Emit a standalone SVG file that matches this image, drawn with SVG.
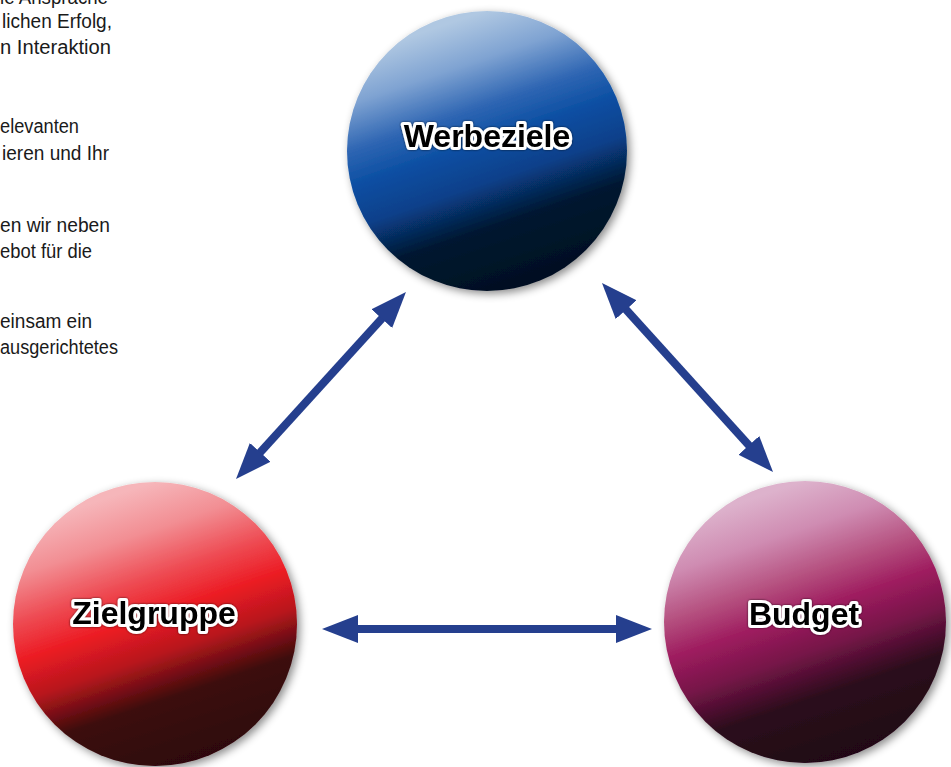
<svg xmlns="http://www.w3.org/2000/svg" width="951" height="767" viewBox="0 0 951 767">
<style>
.side{font-family:"Liberation Sans",Arial,sans-serif;font-size:20px;fill:#1a1a1a}
.lbl{font-family:"Liberation Sans",Arial,sans-serif;font-weight:bold;font-size:32px;fill:#000;stroke:#fff;stroke-width:6;stroke-linejoin:round;paint-order:stroke;text-anchor:middle;filter:url(#halo)}
.conn{stroke:#253f8e;stroke-width:8;fill:none;marker-start:url(#ah);marker-end:url(#ah)}
.sph{filter:url(#shadow)}
</style>
<defs>
<marker id="ah" viewBox="0 0 36 28" refX="6" refY="14" markerWidth="36" markerHeight="28" markerUnits="userSpaceOnUse" orient="auto-start-reverse">
<path d="M0,0 L36,14 L0,28 z" fill="#253f8e"/>
</marker>
<filter id="shadow" x="-20%" y="-20%" width="140%" height="140%">
<feDropShadow dx="3" dy="3" stdDeviation="4" flood-color="#000" flood-opacity="0.45"/>
</filter>
<filter id="halo" x="-10%" y="-30%" width="120%" height="160%">
<feDropShadow dx="0" dy="0" stdDeviation="1" flood-color="#000" flood-opacity="0.7"/>
</filter>
<linearGradient id="gBlue" x1="0.33" y1="0" x2="0.67" y2="1">
<stop offset="0.05" stop-color="#b0c8e2"/>
<stop offset="0.2" stop-color="#7fa3d2"/>
<stop offset="0.35" stop-color="#2f66b3"/>
<stop offset="0.47" stop-color="#0a4ea2"/>
<stop offset="0.6" stop-color="#08408a"/>
<stop offset="0.75" stop-color="#041730"/>
<stop offset="1" stop-color="#020e20"/>
</linearGradient>
<linearGradient id="gRed" x1="0.33" y1="0" x2="0.67" y2="1">
<stop offset="0.05" stop-color="#f6b6ba"/>
<stop offset="0.2" stop-color="#f28e93"/>
<stop offset="0.35" stop-color="#ee4a52"/>
<stop offset="0.47" stop-color="#ec1c24"/>
<stop offset="0.6" stop-color="#b8161d"/>
<stop offset="0.75" stop-color="#3c0a0c"/>
<stop offset="1" stop-color="#2c0607"/>
</linearGradient>
<linearGradient id="gPurple" x1="0.33" y1="0" x2="0.67" y2="1">
<stop offset="0.05" stop-color="#ddb2cc"/>
<stop offset="0.2" stop-color="#cf8cb2"/>
<stop offset="0.35" stop-color="#b5507f"/>
<stop offset="0.47" stop-color="#9e1c5f"/>
<stop offset="0.6" stop-color="#761548"/>
<stop offset="0.75" stop-color="#2c0a1c"/>
<stop offset="1" stop-color="#1e0613"/>
</linearGradient>
</defs>
<rect width="951" height="767" fill="#fff"/>
<g id="sidetext">
<text class="side" x="0" y="4" textLength="108" lengthAdjust="spacingAndGlyphs">ie Ansprache</text>
<text class="side" x="2" y="28" textLength="110" lengthAdjust="spacingAndGlyphs">lichen Erfolg,</text>
<text class="side" x="0" y="54" textLength="111" lengthAdjust="spacingAndGlyphs">n Interaktion</text>
<text class="side" x="0" y="133" textLength="79" lengthAdjust="spacingAndGlyphs">elevanten</text>
<text class="side" x="2" y="160" textLength="107" lengthAdjust="spacingAndGlyphs">ieren und Ihr</text>
<text class="side" x="0" y="232" textLength="110" lengthAdjust="spacingAndGlyphs">en wir neben</text>
<text class="side" x="0" y="258" textLength="92" lengthAdjust="spacingAndGlyphs">ebot für die</text>
<text class="side" x="0" y="328" textLength="92" lengthAdjust="spacingAndGlyphs">einsam ein</text>
<text class="side" x="0" y="354" textLength="118" lengthAdjust="spacingAndGlyphs">ausgerichtetes</text>
</g>
<g id="connectors">
<line class="conn" x1="256.2" y1="456.8" x2="385.8" y2="314.2"/>
<line class="conn" x1="622.1" y1="305.2" x2="752.9" y2="449.8"/>
<line class="conn" x1="352" y1="629" x2="622" y2="629"/>
</g>
<g id="werbeziele">
<circle class="sph" cx="487" cy="151" r="140" fill="url(#gBlue)"/>
<text class="lbl" x="487" y="147">Werbeziele</text>
</g>
<g id="zielgruppe">
<circle class="sph" cx="155" cy="624" r="142" fill="url(#gRed)"/>
<text class="lbl" x="154" y="624">Zielgruppe</text>
</g>
<g id="budget">
<circle class="sph" cx="805" cy="622" r="141" fill="url(#gPurple)"/>
<text class="lbl" x="804" y="625">Budget</text>
</g>
</svg>
